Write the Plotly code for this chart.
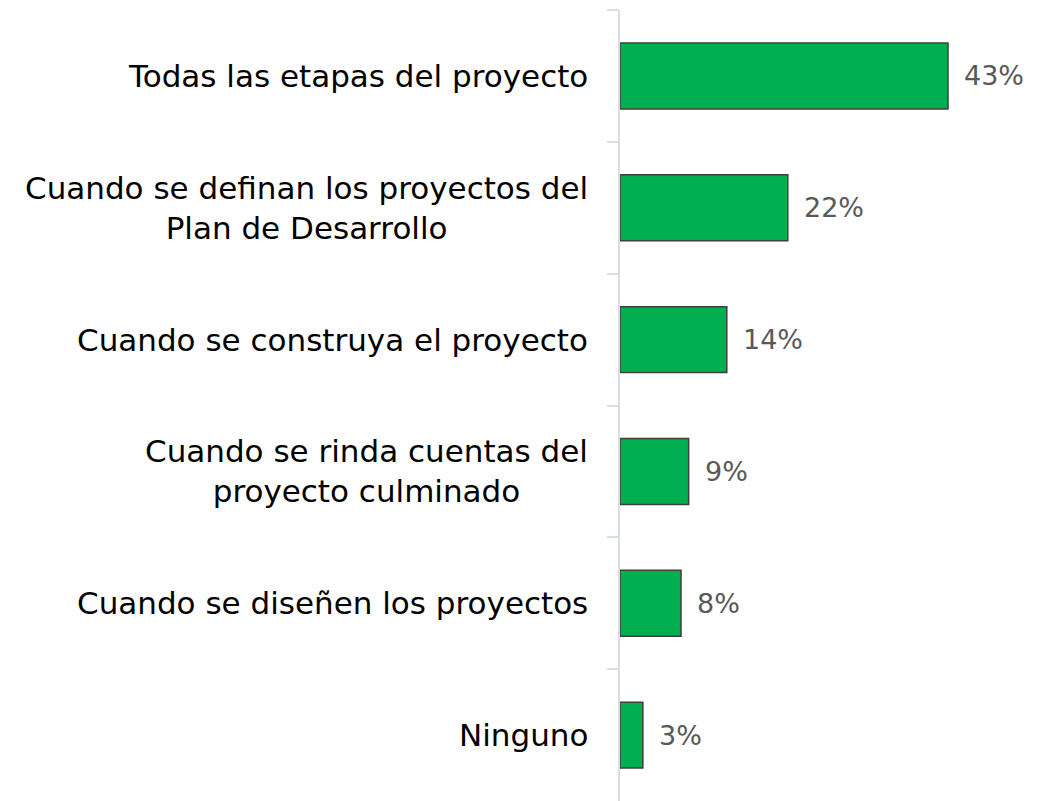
import plotly.graph_objects as go

categories = [
    "Todas las etapas del proyecto",
    "Cuando se definan los proyectos del<br>Plan de Desarrollo",
    "Cuando se construya el proyecto",
    "Cuando se rinda cuentas del<br>proyecto culminado",
    "Cuando se diseñen los proyectos",
    "Ninguno",
]
values = [43, 22, 14, 9, 8, 3]
value_labels = ["43%", "22%", "14%", "9%", "8%", "3%"]

font_family = "DejaVu Sans"

fig = go.Figure()

fig.add_trace(go.Bar(
    x=values,
    y=categories,
    orientation='h',
    width=0.5,
    marker=dict(color='#00B050', line=dict(color='#3F3F3F', width=1.5)),
    hoverinfo='skip'
))

# value labels to the right of each bar
for c, v, t in zip(categories, values, value_labels):
    fig.add_annotation(x=v, y=c, text=t, showarrow=False,
                       xanchor='left', xshift=14,
                       font=dict(family=font_family, size=27, color='#595959'))

# category labels, centred lines, right edge against the axis
for c in categories:
    fig.add_annotation(x=0, xref='paper', y=c, text=c, showarrow=False,
                       xanchor='right', align='center', xshift=-30,
                       font=dict(family=font_family, size=31, color='#000000'))

# page adds an 8px body margin, so the figure is a bit smaller than the window
fig.update_layout(
    width=1030, height=793,
    margin=dict(t=2, l=612, b=0, r=0),
    plot_bgcolor='white', paper_bgcolor='white',
    showlegend=False,
    bargap=0.5,
    xaxis=dict(range=[0, 54.8], visible=False, fixedrange=True),
    yaxis=dict(autorange='reversed', showticklabels=False, showgrid=False,
               showline=True, linecolor='#D9DEE6', linewidth=1.5,
               ticks='outside', ticklen=11, tickcolor='#D9DEE6', tickwidth=1.5,
               tickson='boundaries', fixedrange=True, zeroline=False)
)

fig.write_html("out.html")
